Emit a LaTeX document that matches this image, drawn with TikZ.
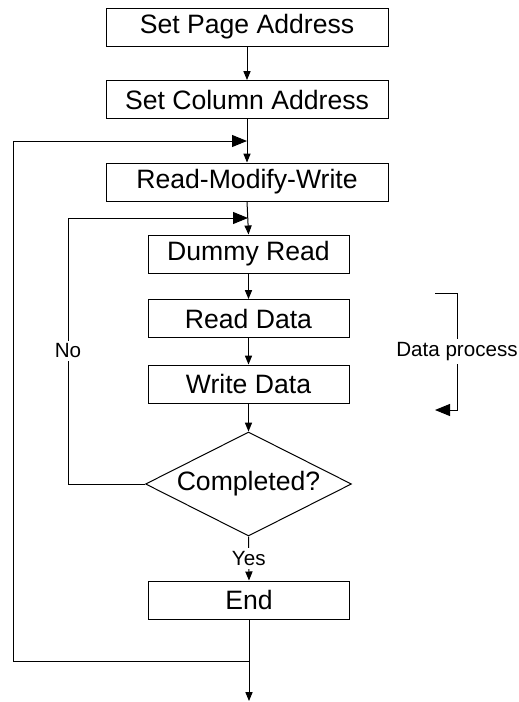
\documentclass[tikz,border=0pt]{standalone}
\usepackage{fontspec}
\setmainfont{Liberation Sans}
\usetikzlibrary{shapes.geometric,arrows.meta}
\begin{document}
\begin{tikzpicture}[x=0.5pt,y=-0.5pt,
  line width=0.5pt,
  every node/.style={font=\fontsize{13.3}{15}\selectfont},
  stepbox/.style={draw, inner sep=0pt, minimum height=19pt},
  widebox/.style={stepbox, minimum width=141pt},
  narrowbox/.style={stepbox, minimum width=100.5pt},
  decision/.style={draw, diamond, inner sep=0pt, aspect=2, minimum width=103pt, minimum height=52pt},
  smalllabel/.style={fill=white, inner sep=1.5pt, font=\fontsize{10.3}{12}\selectfont},
  smallarrow/.style={-{Triangle[length=4.5pt,width=3.6pt]}},
  bigarrow/.style={-{Triangle[length=7.5pt,width=6pt]}}
]
\useasboundingbox (0,0) rectangle (519,702);

\node[widebox] (b1) at (247,27) {Set Page Address};
\node[widebox] (b2) at (247,99.5) {Set Column Address};
\node[widebox] (b3) at (247,182) {Read-Modify-Write};
\node[narrowbox] (b4) at (248.5,254) {Dummy Read};
\node[narrowbox] (b5) at (248.5,318.5) {Read Data};
\node[narrowbox] (b6) at (248.5,384) {Write Data};
\node[decision] (dia) at (248.5,484) {Completed?};
\node[narrowbox] (b7) at (249,600) {End};

\coordinate (j1) at (247,141);
\coordinate (j2) at (248,218);
\coordinate (j3) at (249,661);
\coordinate (exit) at (249,701);
\coordinate (nl1) at (68,484);
\coordinate (nl2) at (68,218);
\coordinate (ol1) at (13,661);
\coordinate (ol2) at (13,141);

\draw[smallarrow] (b1) -- (b2);
\draw[smallarrow] (b2) -- (b3);
\draw[smallarrow] (b3.south) -- (b4.north);
\draw[smallarrow] (b4) -- (b5);
\draw[smallarrow] (b5) -- (b6);
\draw[smallarrow] (b6.south) -- (dia.north);
\draw[smallarrow] (dia.south) -- node[smalllabel] {Yes} (b7.north);
\draw[smallarrow] (b7.south) -- (exit);

\draw[bigarrow] (dia.west) -- (nl1) -- node[smalllabel] {No} (nl2) -- (j2);
\draw[bigarrow] (j3) -- (ol1) -- (ol2) -- (j1);

\coordinate (dp1) at (435,293);
\coordinate (dp2) at (457,293);
\coordinate (dp3) at (457,410);
\coordinate (dp4) at (435,410);
\draw[bigarrow] (dp1) -- (dp2) -- node[smalllabel] {Data process} (dp3) -- (dp4);
\end{tikzpicture}
\end{document}
